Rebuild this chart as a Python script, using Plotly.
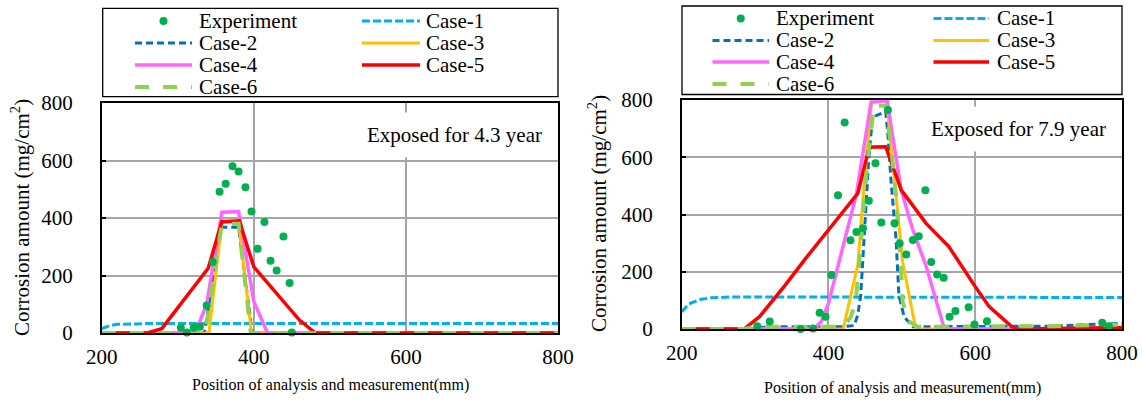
import plotly.graph_objects as go

W, H = 1142, 401
FONT = "'Liberation Serif', 'Times New Roman', Times, serif"

# ---------------- data: exposed for 4.3 year (left) ----------------
exp_x_43 = [304, 312, 321, 329, 338, 346, 355, 363, 372, 380, 389, 397, 405, 414, 422, 430, 439, 447, 450]
exp_y_43 = [18, 2, 18, 22, 96, 247, 491, 519, 580, 562, 507, 423, 293, 386, 251, 217, 336, 174, 2]

c1_x_43 = [200, 210, 220, 235, 260, 800]
c1_y_43 = [15, 25, 30, 32, 33, 33]
c2_x_43 = [200, 335, 357, 380, 398, 800]
c2_y_43 = [0, 0, 368, 368, 0, 0]
c3_x_43 = [200, 341, 358, 380, 397, 800]
c3_y_43 = [0, 0, 385, 385, 0, 0]
c4_x_43 = [200, 323, 338, 358, 380, 400, 418, 800]
c4_y_43 = [0, 0, 100, 420, 422, 110, 0, 0]
c5_x_43 = [200, 260, 279, 340, 358, 381, 400, 460, 481, 800]
c5_y_43 = [0, 0, 15, 225, 387, 390, 230, 45, 0, 0]
c6_x_43 = [200, 336, 358, 380, 396, 800]
c6_y_43 = [0, 0, 380, 380, 0, 0]

# ---------------- data: exposed for 7.9 year (right) ----------------
exp_x_79 = [303, 320, 362, 379, 388, 396, 404, 413, 422, 430, 438, 447, 455, 464, 472, 481,
            490, 497, 506, 515, 523, 532, 540, 548, 557, 565, 573, 591, 599, 616, 773, 782]
exp_y_79 = [10, 26, 0, 2, 57, 43, 189, 467, 721, 310, 339, 352, 448, 579, 372, 765,
            369, 299, 260, 311, 324, 485, 234, 190, 179, 43, 63, 76, 16, 27, 22, 10]

c1_x_79 = [200, 210, 225, 240, 270, 800]
c1_y_79 = [60, 88, 103, 109, 112, 110]
c2_x_79 = [200, 290, 320, 420, 435, 440, 444, 449, 455, 460, 478, 481, 485, 492, 496, 503, 515, 700, 800]
c2_y_79 = [0, 0, 8, 8, 12, 50, 120, 350, 600, 740, 760, 680, 526, 317, 119, 43, 8, 10, 20]
c3_x_79 = [200, 420, 440, 449, 460, 478, 492, 501, 519, 800]
c3_y_79 = [0, 0, 224, 515, 830, 830, 468, 235, 0, 0]
c4_x_79 = [200, 380, 390, 400, 424, 438, 458, 480, 499, 515, 533, 558, 800]
c4_y_79 = [0, 0, 25, 90, 330, 470, 792, 797, 486, 346, 220, 0, 0]
c5_x_79 = [200, 285, 306, 340, 370, 400, 440, 455, 460, 478, 499, 533, 564, 600, 619, 650, 656, 800]
c5_y_79 = [0, 0, 43, 150, 250, 346, 474, 630, 636, 637, 486, 369, 288, 148, 78, 8, 0, 5]
c6_x_79 = [200, 285, 300, 420, 430, 437, 444, 453, 462, 478, 485, 492, 499, 501, 510, 521, 700, 800]
c6_y_79 = [0, 0, 8, 8, 40, 90, 293, 584, 780, 780, 643, 468, 212, 95, 26, 8, 10, 15]

case_names = ["Case-1", "Case-2", "Case-3", "Case-4", "Case-5", "Case-6"]
x_ticks = [200, 400, 600, 800]
y_ticks = [0, 200, 400, 600, 800]
panel_titles = ["Exposed for 4.3 year", "Exposed for 7.9 year"]
x_title = "Position of analysis and measurement(mm)"
y_title = "Corrosion amount (mg/cm<sup>2</sup>)"

# ---------------- styles ----------------
EXP_COLOR = "#00B050"
styles = {
    "Case-1": dict(color="#00B0F0", width=3, dash="8px,3px"),
    "Case-2": dict(color="#0070C0", width=3, dash="7px,4px"),
    "Case-3": dict(color="#FFC000", width=3, dash="solid"),
    "Case-4": dict(color="#FF66FF", width=3.5, dash="solid"),
    "Case-5": dict(color="#FF0000", width=3.5, dash="solid"),
    "Case-6": dict(color="#92D050", width=4, dash="14px,14px"),
}

panels = [
    dict(xa="x", ya="y",
         exp=(exp_x_43, exp_y_43),
         cases=[(c1_x_43, c1_y_43), (c2_x_43, c2_y_43), (c3_x_43, c3_y_43),
                (c4_x_43, c4_y_43), (c5_x_43, c5_y_43), (c6_x_43, c6_y_43)]),
    dict(xa="x2", ya="y2",
         exp=(exp_x_79, exp_y_79),
         cases=[(c1_x_79, c1_y_79), (c2_x_79, c2_y_79), (c3_x_79, c3_y_79),
                (c4_x_79, c4_y_79), (c5_x_79, c5_y_79), (c6_x_79, c6_y_79)]),
]

fig = go.Figure()
for p in panels:
    for name, (xs, ys) in zip(case_names, p["cases"]):
        st = styles[name]
        fig.add_trace(go.Scatter(x=xs, y=ys, mode="lines", name=name, showlegend=False,
                                 xaxis=p["xa"], yaxis=p["ya"],
                                 line=dict(color=st["color"], width=st["width"], dash=st["dash"])))
    fig.add_trace(go.Scatter(x=p["exp"][0], y=p["exp"][1], mode="markers", name="Experiment",
                             showlegend=False, xaxis=p["xa"], yaxis=p["ya"], cliponaxis=False,
                             marker=dict(color=EXP_COLOR, size=8)))

# ---------------- layout geometry (pixels) ----------------
def fx(px):
    return px / W

def fy(py):
    return 1 - py / H

plot_boxes = [(101.7, 103.0, 558.0, 333.0), (681.7, 100.0, 1122.0, 329.0)]

axis_common = dict(showline=True, mirror=True, linecolor="black", linewidth=1.5,
                   showgrid=True, gridcolor="#A6A6A6", gridwidth=1.5, zeroline=False,
                   automargin=False,
                   tickfont=dict(family=FONT, size=21, color="black"))

layout_axes = {}
for i, (l, t, r, b) in enumerate(plot_boxes):
    sfx = "" if i == 0 else "2"
    layout_axes["xaxis" + sfx] = dict(axis_common, domain=[fx(l), fx(r)], range=[200, 800],
                                      tickvals=x_ticks, ticks="", ticklabelstandoff=4,
                                      anchor="y" + sfx)
    layout_axes["yaxis" + sfx] = dict(axis_common, domain=[fy(b), fy(t)], range=[0, 800],
                                      tickvals=y_ticks, ticks="inside", ticklen=5,
                                      tickcolor="black", tickwidth=1.5, ticklabelstandoff=23,
                                      anchor="x" + sfx)

annotations = []
# panel labels
for txt, (xr, yc) in zip(panel_titles, [(553, 135), (1117, 129)]):
    annotations.append(dict(text=txt, x=fx(xr), y=fy(yc), xref="paper", yref="paper",
                            xanchor="right", yanchor="middle", showarrow=False,
                            bgcolor="white", borderpad=10,
                            font=dict(family=FONT, size=21, color="black")))
# axis titles
for (xc, yc) in [(20, 218), (598, 214)]:
    annotations.append(dict(text=y_title, x=fx(xc), y=fy(yc), xref="paper", yref="paper",
                            textangle=-90, showarrow=False, xanchor="center", yanchor="middle",
                            font=dict(family=FONT, size=21, color="black")))
for (xc, yc) in [(330, 385), (902, 388)]:
    annotations.append(dict(text=x_title, x=fx(xc), y=fy(yc), xref="paper", yref="paper",
                            showarrow=False, xanchor="center", yanchor="middle",
                            font=dict(family=FONT, size=16, color="black")))

# ---------------- legends (drawn as boxes with samples) ----------------
legend_items = ["Experiment", "Case-1", "Case-2", "Case-3", "Case-4", "Case-5", "Case-6"]
legend_geo = [
    dict(box=(102.7, 8.3, 558.0, 96.7), rows=[21, 43, 65, 87],
         samples=[(135, 192), (362, 420)], texts=[197, 424]),
    dict(box=(682.0, 6.0, 1122.0, 94.5), rows=[18.5, 40.5, 62, 84],
         samples=[(712.5, 769), (933.5, 989)], texts=[774, 994.5]),
]
shapes = []
for g in legend_geo:
    l, t, r, b = g["box"]
    shapes.append(dict(type="rect", xref="paper", yref="paper", x0=fx(l), x1=fx(r),
                       y0=fy(b), y1=fy(t), line=dict(color="black", width=1.3),
                       fillcolor="white", layer="below"))
    for k, name in enumerate(legend_items):
        row, col = divmod(k, 2)
        yy = g["rows"][row]
        s0, s1 = g["samples"][col]
        if name == "Experiment":
            cx = (s0 + s1) / 2
            shapes.append(dict(type="circle", xref="paper", yref="paper",
                               xsizemode="pixel", ysizemode="pixel",
                               xanchor=fx(cx), yanchor=fy(yy), x0=-4, x1=4, y0=-4, y1=4,
                               fillcolor=EXP_COLOR, line=dict(width=0), layer="above"))
        else:
            st = styles[name]
            shapes.append(dict(type="line", xref="paper", yref="paper",
                               x0=fx(s0), x1=fx(s1), y0=fy(yy), y1=fy(yy), layer="above",
                               line=dict(color=st["color"], width=st["width"], dash=st["dash"])))
        annotations.append(dict(text=name, x=fx(g["texts"][col]), y=fy(yy), xref="paper",
                                yref="paper", xanchor="left", yanchor="middle", showarrow=False,
                                font=dict(family=FONT, size=21, color="black")))

fig.update_layout(
    template="none",
    width=W, height=H, autosize=False,
    margin=dict(l=0, r=0, t=0, b=0, pad=0),
    paper_bgcolor="white", plot_bgcolor="white",
    font=dict(family=FONT, color="black"),
    showlegend=False,
    annotations=annotations, shapes=shapes,
    **layout_axes,
)

fig.write_html("out.html",
               config={"displayModeBar": False},
               post_script="document.body.style.margin='0';document.body.style.padding='0';")
